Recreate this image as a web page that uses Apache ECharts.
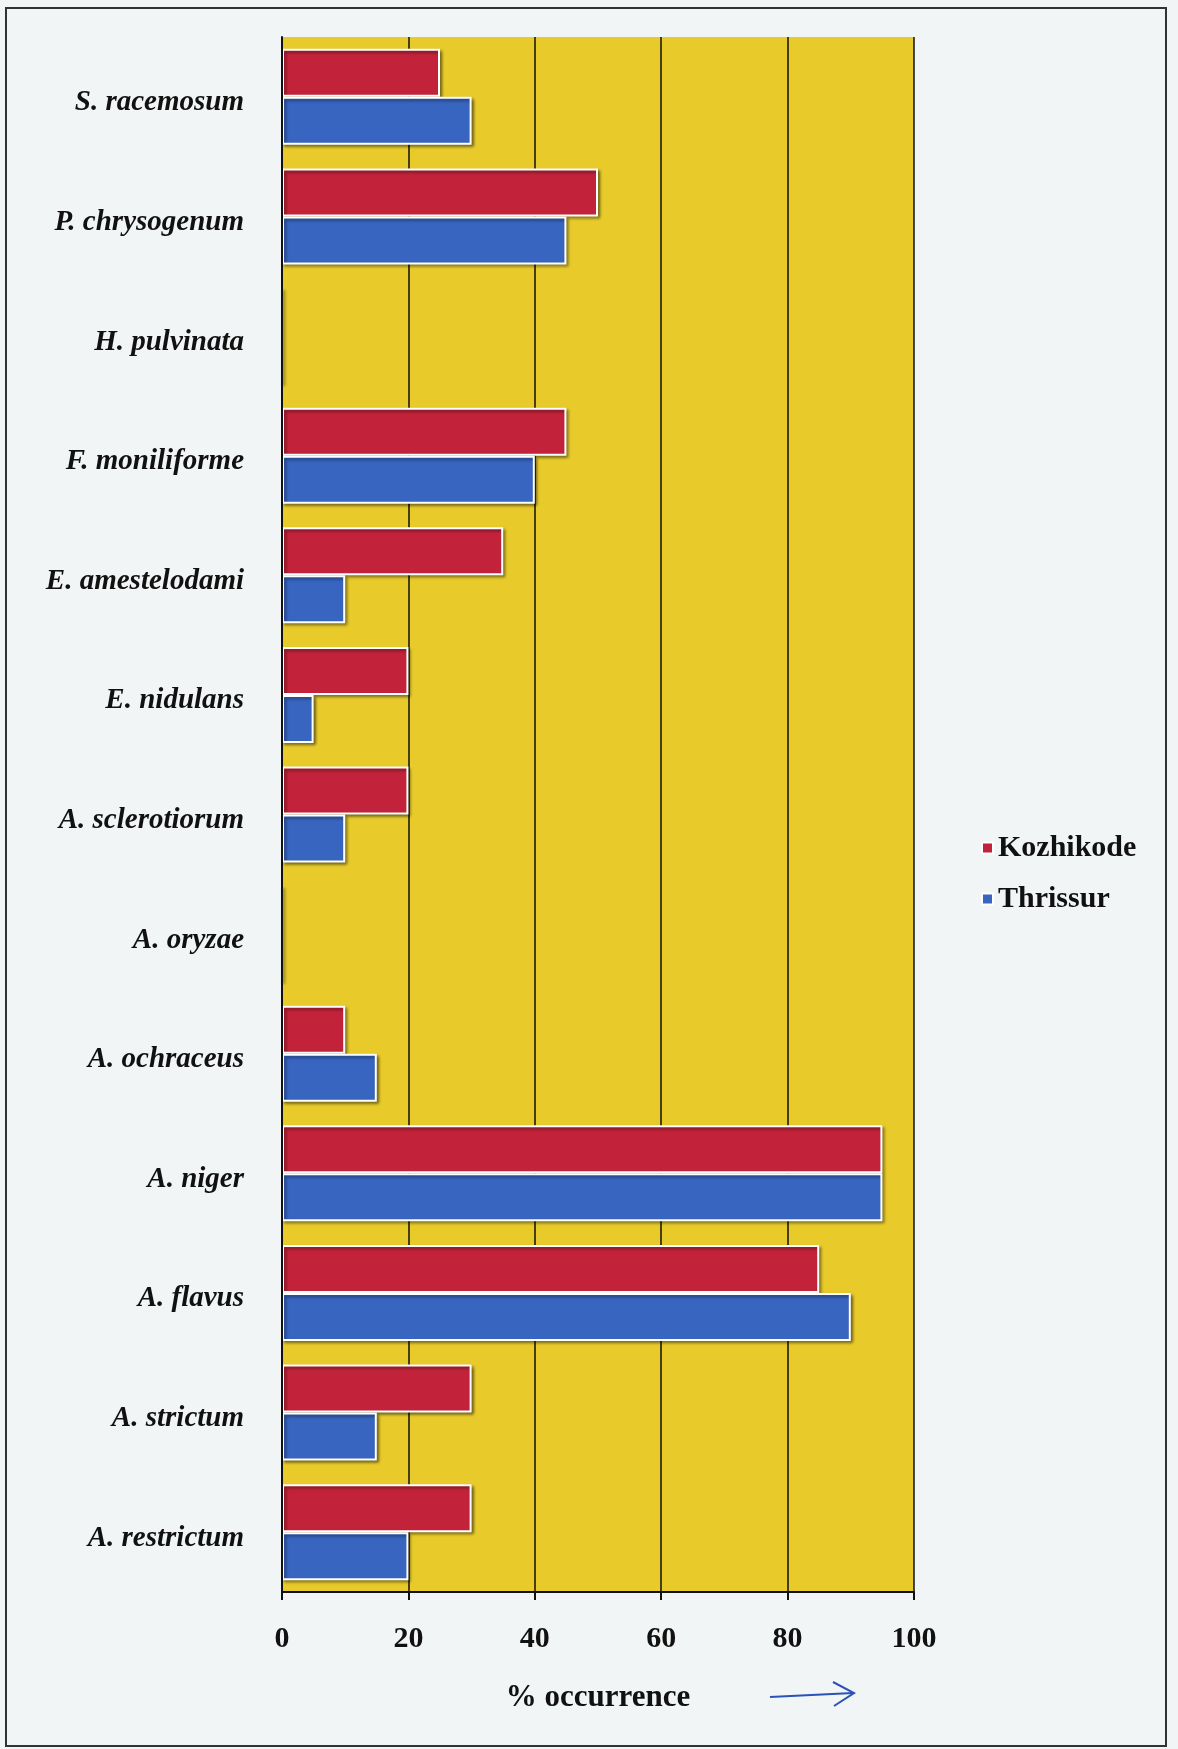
<!DOCTYPE html>
<html>
<head>
<meta charset="utf-8">
<script src="https://cdn.jsdelivr.net/npm/echarts@6/dist/echarts.min.js"></script>
<style>
html,body{margin:0;padding:0;background:#f2f5f5;}
#c{width:1178px;height:1749px;}
</style>
</head>
<body>
<div id="c"></div>
<script>
// Categories listed top to bottom as in the figure
const categories = ['S. racemosum','P. chrysogenum','H. pulvinata','F. moniliforme','E. amestelodami','E. nidulans','A. sclerotiorum','A. oryzae','A. ochraceus','A. niger','A. flavus','A. strictum','A. restrictum'];
const kozhikode = [25, 50, 0, 45, 35, 20, 20, 0, 10, 95, 85, 30, 30];
const thrissur  = [30, 45, 0, 40, 10, 5, 10, 0, 15, 95, 90, 15, 20];
const seriesNames = ['Kozhikode','Thrissur'];
const xTicks = [0, 20, 40, 60, 80, 100];

const chart = echarts.init(document.getElementById('c'), null, {renderer:'canvas'});
const serif = '"Liberation Serif","Times New Roman",serif';
const barStyle = (color) => ({
  color: color,
  borderColor: '#ffffff',
  borderWidth: 2,
  shadowColor: 'rgba(0,0,0,0.45)',
  shadowBlur: 3,
  shadowOffsetX: 2,
  shadowOffsetY: 2
});
chart.setOption({
  backgroundColor: '#f2f5f5',
  animation: false,
  grid: {left: 282, right: 264, top: 37, bottom: 157, show: true, backgroundColor: '#e8cb2b', borderWidth: 0},
  legend: {
    orient: 'vertical', left: 976, top: 828,
    itemWidth: 11, itemHeight: 11, itemGap: 21, icon: 'rect',
    data: seriesNames,
    textStyle: {fontFamily: serif, fontWeight: 'bold', fontSize: 30, color: '#111'}
  },
  xAxis: {
    type: 'value', min: xTicks[0], max: xTicks[xTicks.length-1], interval: 20,
    axisLine: {show: true, lineStyle: {color: '#111', width: 2}},
    axisTick: {show: true, length: 8, lineStyle: {color: '#111', width: 2}},
    splitLine: {show: true, lineStyle: {color: '#111', width: 1.5}},
    axisLabel: {margin: 32, fontFamily: serif, fontWeight: 'bold', fontSize: 30, color: '#111'},
    name: '% occurrence', nameLocation: 'middle', nameGap: 90,
    nameTextStyle: {fontFamily: serif, fontWeight: 'bold', fontSize: 31, color: '#111'}
  },
  yAxis: {
    type: 'category', data: categories, inverse: true, z: 5,
    axisLine: {show: true, lineStyle: {color: '#111', width: 2}},
    axisTick: {show: false},
    splitLine: {show: false},
    axisLabel: {margin: 38, verticalAlign: 'top', lineHeight: 12, fontFamily: serif, fontWeight: 'bold', fontStyle: 'italic', fontSize: 29, color: '#111'}
  },
  series: [
    {name: seriesNames[0], type: 'bar', data: kozhikode, barWidth: 48, barGap: '0%', itemStyle: barStyle('#c3233a')},
    {name: seriesNames[1], type: 'bar', data: thrissur, barWidth: 48, barGap: '0%', itemStyle: barStyle('#3865c0')}
  ],
  graphic: [
    {type: 'rect', shape: {x: 6, y: 8, width: 1160, height: 1738}, style: {fill: 'none', stroke: '#333', lineWidth: 2}, silent: true},
    {type: 'line', shape: {x1: 770, y1: 1697, x2: 853, y2: 1693}, style: {stroke: '#2a52b8', lineWidth: 2}},
    {type: 'polyline', shape: {points: [[833, 1682], [854, 1693], [834, 1706]]}, style: {stroke: '#2a52b8', lineWidth: 2, fill: 'none'}}
  ]
});
</script>
</body>
</html>
